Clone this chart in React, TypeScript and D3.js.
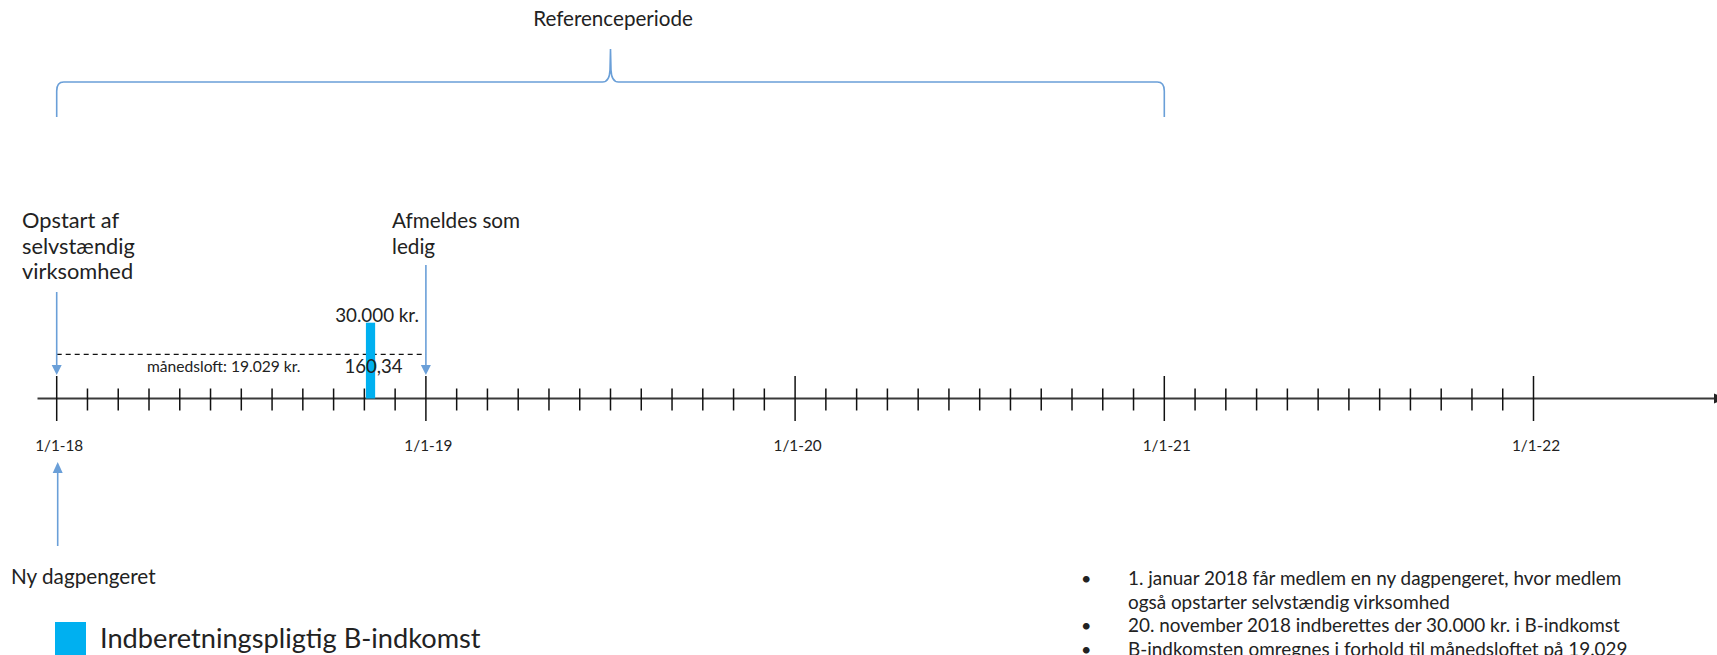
import React from "react";
import * as d3 from "d3";

// ---------- data ----------
const yearTickLabels = ["1/1-18", "1/1-19", "1/1-20", "1/1-21", "1/1-22"];
const yearTickMonths = [0, 12, 24, 36, 48];
const totalMonths = 48;

const referenceStartMonth = 0;
const referenceEndMonth = 36;
const referenceLabel = "Referenceperiode";

const eventDownMonths = [0, 12];
const eventDownLabels = [
  ["Opstart af", "selvstændig", "virksomhed"],
  ["Afmeldes som", "ledig"],
];
const eventUpMonth = 0;
const eventUpLabel = "Ny dagpengeret";

const incomeMonthStart = 10.05;
const incomeMonthEnd = 10.35;
const incomeValue = 30000;
const incomeLabel = "30.000 kr.";
const incomeRatioLabel = "160,34";

const capValue = 19029;
const capLabel = "månedsloft: 19.029 kr.";
const capStartMonth = 0;
const capEndMonth = 12;

const legendLabel = "Indberetningspligtig B-indkomst";

const bulletLines = [
  ["1. januar 2018 får medlem en ny dagpengeret, hvor medlem", "også opstarter selvstændig virksomhed"],
  ["20. november 2018 indberettes der 30.000 kr. i B-indkomst"],
  ["B-indkomsten omregnes i forhold til månedsloftet på 19.029"],
];

// ---------- layout ----------
const W = 1717;
const H = 655;
const AXIS_Y = 398.5;
const FONT = "Lato, 'Open Sans', sans-serif";
const TEXT = "#222";
const BLUE = "#6a9fd8";
const BAR = "#00b0f0";

export default function App() {
  const x = d3.scaleLinear().domain([0, totalMonths]).range([56.7, 1533.5]);
  const y = d3.scaleLinear().domain([capValue, incomeValue]).range([354.3, 322.7]);

  const minorMonths = d3.range(1, totalMonths).filter((m) => m % 12 !== 0);

  // brace
  const bx0 = x(referenceStartMonth);
  const bx1 = x(referenceEndMonth);
  const bm = (bx0 + bx1) / 2;
  const by = 82;
  const byEnd = 117;
  const byTop = 49;
  const braceP = d3.path();
  braceP.moveTo(bx0, byEnd);
  braceP.lineTo(bx0, by + 9);
  braceP.quadraticCurveTo(bx0, by, bx0 + 7, by);
  braceP.lineTo(bm - 8, by);
  braceP.quadraticCurveTo(bm - 1, by, bm - 0.5, by - 12);
  braceP.lineTo(bm, byTop);
  braceP.lineTo(bm + 0.5, by - 12);
  braceP.quadraticCurveTo(bm + 1, by, bm + 8, by);
  braceP.lineTo(bx1 - 7, by);
  braceP.quadraticCurveTo(bx1, by, bx1, by + 9);
  braceP.lineTo(bx1, byEnd);

  const downStarts = [292, 265];
  const downLabelX = [22, 392];
  const downLabelSize = [21.8, 20.7];
  const tip = 375;

  return (
    <svg
      width={W}
      height={H}
      style={{ position: "absolute", left: 0, top: 0, background: "#fff" }}
      fontFamily={FONT}
    >
      <rect x={0} y={0} width={W} height={H} fill="#fff" />

      {/* reference brace */}
      <path d={braceP.toString()} fill="none" stroke={BLUE} strokeWidth={1.6} />
      <text x={bm + 2.5} y={26} textAnchor="middle" fontSize={20.6} fill={TEXT}>
        {referenceLabel}
      </text>

      {/* axis */}
      <line x1={37.5} x2={1716} y1={AXIS_Y} y2={AXIS_Y} stroke="#3a3a3a" strokeWidth={2} />
      <path d={`M1714,${AXIS_Y - 5}L1726,${AXIS_Y}L1714,${AXIS_Y + 5}Z`} fill="#222" />
      {minorMonths.map((m) => (
        <line key={m} x1={x(m)} x2={x(m)} y1={388.5} y2={410.5} stroke="#111" strokeWidth={1.5} />
      ))}
      {yearTickMonths.map((m, i) => (
        <g key={m}>
          <line x1={x(m)} x2={x(m)} y1={376} y2={421} stroke="#111" strokeWidth={1.5} />
          <text x={x(m) + 2.5} y={451} textAnchor="middle" fontSize={15.3} fill={TEXT}>
            {yearTickLabels[i]}
          </text>
        </g>
      ))}

      {/* monthly cap dashed line */}
      <line
        x1={x(capStartMonth)}
        x2={x(capEndMonth)}
        y1={y(capValue)}
        y2={y(capValue)}
        stroke="#111"
        strokeWidth={1.3}
        strokeDasharray="5,4"
      />
      <text x={147} y={371.5} fontSize={15.6} fill={TEXT}>
        {capLabel}
      </text>

      {/* income bar */}
      <rect
        x={x(incomeMonthStart)}
        y={y(incomeValue)}
        width={x(incomeMonthEnd) - x(incomeMonthStart)}
        height={AXIS_Y - y(incomeValue)}
        fill={BAR}
      />
      <text
        x={(x(incomeMonthStart) + x(incomeMonthEnd)) / 2 + 6.5}
        y={y(incomeValue) - 1}
        textAnchor="middle"
        fontSize={18.8}
        fill={TEXT}
      >
        {incomeLabel}
      </text>
      <text x={373.5} y={373} textAnchor="middle" fontSize={18.6} fill={TEXT}>
        {incomeRatioLabel}
      </text>

      {/* down arrows with labels */}
      {eventDownMonths.map((m, i) => (
        <g key={m}>
          <line x1={x(m)} x2={x(m)} y1={downStarts[i]} y2={tip - 8} stroke={BLUE} strokeWidth={1.6} />
          <path d={`M${x(m) - 5},${tip - 10}L${x(m) + 5},${tip - 10}L${x(m)},${tip}Z`} fill={BLUE} />
          {eventDownLabels[i].map((line, j) => (
            <text key={j} x={downLabelX[i]} y={228 + j * 25.5} fontSize={downLabelSize[i]} fill={TEXT}>
              {line}
            </text>
          ))}
        </g>
      ))}

      {/* up arrow */}
      <line x1={x(eventUpMonth) + 1} x2={x(eventUpMonth) + 1} y1={546} y2={470} stroke={BLUE} strokeWidth={1.6} />
      <path
        d={`M${x(eventUpMonth) - 4},${473}L${x(eventUpMonth) + 6},${473}L${x(eventUpMonth) + 1},${462}Z`}
        fill={BLUE}
      />
      <text x={11} y={584} fontSize={20.7} fill={TEXT}>
        {eventUpLabel}
      </text>

      {/* legend */}
      <rect x={55} y={622} width={31} height={40} fill={BAR} />
      <text x={100} y={648} fontSize={27.2} fill={TEXT}>
        {legendLabel}
      </text>

      {/* bullets */}
      {(() => {
        let k = 0;
        const out: React.ReactNode[] = [];
        bulletLines.forEach((lines, bi) => {
          lines.forEach((ln, li) => {
            const yy = 585 + k * 23.5;
            if (li === 0) {
              out.push(
                <text key={`b${bi}`} x={1081} y={yy} fontSize={18} fill={TEXT}>
                  •
                </text>
              );
            }
            out.push(
              <text key={`t${bi}-${li}`} x={1128} y={yy} fontSize={18.9} fill={TEXT}>
                {ln}
              </text>
            );
            k++;
          });
        });
        return out;
      })()}
    </svg>
  );
}
